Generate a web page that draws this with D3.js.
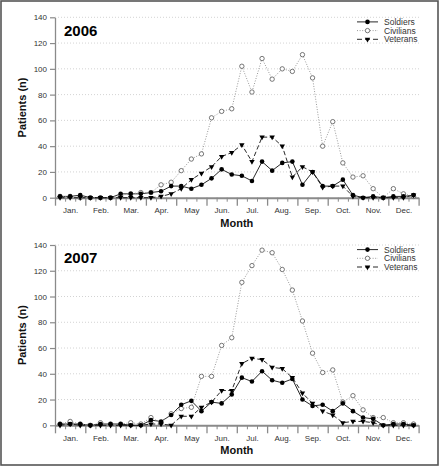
<!DOCTYPE html>
<html><head><meta charset="utf-8">
<script src="https://cdn.jsdelivr.net/npm/d3@7"></script>
<style>
html,body{margin:0;padding:0;background:#fff;}
svg{display:block;font-family:Arial,"Liberation Sans",sans-serif;}
</style></head>
<body><svg id="c" width="439" height="466"></svg>
<script>
const months = ["Jan.","Feb.","Mar.","Apr.","May","Jun.","Jul.","Aug.","Sep.","Oct.","Nov.","Dec."];
const yTicks = [0,20,40,60,80,100,120,140];
const seriesNames = ["Soldiers","Civilians","Veterans"];
const years = ["2006","2007"];

const soldiers2006 = [1,1,2,0,0,0, 3,3,3,4,5,9, 9,7,10,15,22,18, 17,13,28,21,27,28, 10,20,9,9,14,2, 0,1,0,1,1,2];
const civilians2006 = [1,1,0,0,0,0, 2,3,4,4,10,12, 21,30,34,62,67,69, 102,82,108,92,100,98, 111,93,40,59,27,16, 17,7,0,7,3,1];
const veterans2006 = [0,0,0,0,0,0, 0,0,0,0,1,3, 7,14,19,24,32,35, 41,28,47,47,40,16, 24,20,8,9,9,1, 0,0,0,0,0,2];

const soldiers2007 = [1,1,1,0,1,1, 1,0,0,4,3,8, 16,19,11,18,17,24, 37,34,42,35,33,36, 20,15,16,11,17,11, 6,5,0,1,1,0];
const civilians2007 = [1,3,1,0,2,1, 1,2,1,6,2,9, 13,14,38,38,62,68, 111,124,136,134,121,105, 81,56,41,43,18,23, 12,6,6,2,2,1];
const veterans2007 = [0,1,0,0,0,0, 0,0,0,1,1,0, 7,7,14,18,27,27, 48,52,51,45,44,37, 25,17,11,8,2,3, 3,2,0,0,0,0];

const data = {
  "2006": [soldiers2006, civilians2006, veterans2006],
  "2007": [soldiers2007, civilians2007, veterans2007]
};

const svg = d3.select("#c");
svg.append("rect").attr("x",1).attr("y",1).attr("width",437).attr("height",464)
  .attr("fill","#fff").attr("stroke","#555").attr("stroke-width",1.6);

const xL = 55, xR = 418.6;
const panels = [{top:17.3, bottom:197.7},{top:245, bottom:425.3}];
const axisCol = "#8a8a8a";
const txtCol = "#333";

const styles = [
  {stroke:"#111", dash:null, marker:"dot"},
  {stroke:"#9a9a9a", dash:"1,1.6", marker:"open"},
  {stroke:"#111", dash:"4.5,2.5", marker:"tri"}
];
const triPath = d3.symbol().type(d3.symbolTriangle).size(13)();

function drawMarker(g, type, x, y){
  if(type==="dot"){
    g.append("circle").attr("cx",x).attr("cy",y).attr("r",2.3).attr("fill","#000");
  } else if(type==="open"){
    g.append("circle").attr("cx",x).attr("cy",y).attr("r",2.2).attr("fill","#fff")
      .attr("stroke","#555").attr("stroke-width",0.8);
  } else {
    g.append("path").attr("d",triPath).attr("transform",`translate(${x},${y}) rotate(180)`).attr("fill","#000");
  }
}

years.forEach((yr, pi) => {
  const P = panels[pi];
  const x = d3.scaleLinear().domain([0,36]).range([xL,xR]);
  const y = d3.scaleLinear().domain([0,140]).range([P.bottom,P.top]);
  const g = svg.append("g");

  g.selectAll("line.grid").data(yTicks.filter(d=>d>0)).enter().append("line")
    .attr("x1",xL).attr("x2",xR+2).attr("y1",d=>y(d)).attr("y2",d=>y(d))
    .attr("stroke","#c8c8c8").attr("stroke-width",0.8).attr("stroke-dasharray","1,2");

  const ya = g.append("g").attr("transform",`translate(${xL},0)`)
    .call(d3.axisLeft(y).tickValues(yTicks).tickSize(5).tickPadding(3).tickSizeOuter(0));
  ya.select(".domain").attr("stroke",axisCol).attr("stroke-width",1.3);
  ya.selectAll(".tick line").attr("stroke",axisCol).attr("stroke-width",1.2);
  ya.selectAll(".tick text").attr("fill",txtCol).style("font-size","8px").style("font-family","Arial");

  const majors = d3.range(0,37,3);
  const minors = d3.range(0,37).filter(d=>d%3!==0);
  const xa = g.append("g").attr("transform",`translate(0,${P.bottom})`)
    .call(d3.axisBottom(x).tickValues(majors).tickSize(8).tickFormat("").tickSizeOuter(0));
  xa.select(".domain").attr("stroke",axisCol).attr("stroke-width",2);
  xa.selectAll(".tick line").attr("stroke",axisCol).attr("stroke-width",1.3);
  const xm = g.append("g").attr("transform",`translate(0,${P.bottom})`)
    .call(d3.axisBottom(x).tickValues(minors).tickSize(4).tickFormat("").tickSizeOuter(0));
  xm.select(".domain").remove();
  xm.selectAll(".tick line").attr("stroke",axisCol).attr("stroke-width",1);
  const xl = g.append("g").attr("transform",`translate(0,${P.bottom})`)
    .call(d3.axisBottom(x).tickValues(months.map((m,i)=>i*3+1.5)).tickSize(0).tickPadding(10)
      .tickFormat((d,i)=>months[i]));
  xl.select(".domain").remove();
  xl.selectAll(".tick text").attr("fill",txtCol).style("font-size","8px").style("font-family","Arial");

  const sers = data[yr];
  sers.forEach((vals, si) => {
    const st = styles[si];
    const line = d3.line().x((d,i)=>x(i+0.5)).y(d=>y(d));
    const p = g.append("path").datum(vals).attr("d",line).attr("fill","none")
      .attr("stroke",st.stroke).attr("stroke-width",si===1?1:0.9);
    if(st.dash) p.attr("stroke-dasharray",st.dash);
  });
  [1,2,0].forEach(si => {
    const mg = g.append("g");
    data[yr][si].forEach((v,i)=>drawMarker(mg, styles[si].marker, x(i+0.5), y(v)));
  });

  g.append("text").attr("x",64).attr("y",P.top+18.4).text(yr)
    .attr("font-weight","bold").attr("font-size","15px").attr("fill","#000");

  g.append("text").attr("transform",`translate(22,${(P.top+P.bottom)/2}) rotate(-90)`)
    .attr("text-anchor","middle").attr("dominant-baseline","central")
    .attr("font-weight","bold").attr("font-size","11px").attr("fill","#111").text("Patients (n)");

  g.append("text").attr("x",(xL+xR)/2).attr("y",P.bottom+29).attr("text-anchor","middle")
    .attr("font-weight","bold").attr("font-size","11px").attr("fill","#111").text("Month");

  const lg = g.append("g");
  seriesNames.forEach((n, si) => {
    const ly = P.top + 4.6 + si*8.7;
    const st = styles[si];
    const l = lg.append("line").attr("x1",357).attr("x2",378).attr("y1",ly).attr("y2",ly)
      .attr("stroke",st.stroke).attr("stroke-width",si===1?1:0.9);
    if(st.dash) l.attr("stroke-dasharray", si===2 ? "5,3" : st.dash);
    drawMarker(lg, st.marker, 367.5, ly);
    lg.append("text").attr("x",384).attr("y",ly).attr("dominant-baseline","central")
      .attr("font-size","8.5px").attr("fill",txtCol).text(n);
  });
});
</script>
</body></html>
